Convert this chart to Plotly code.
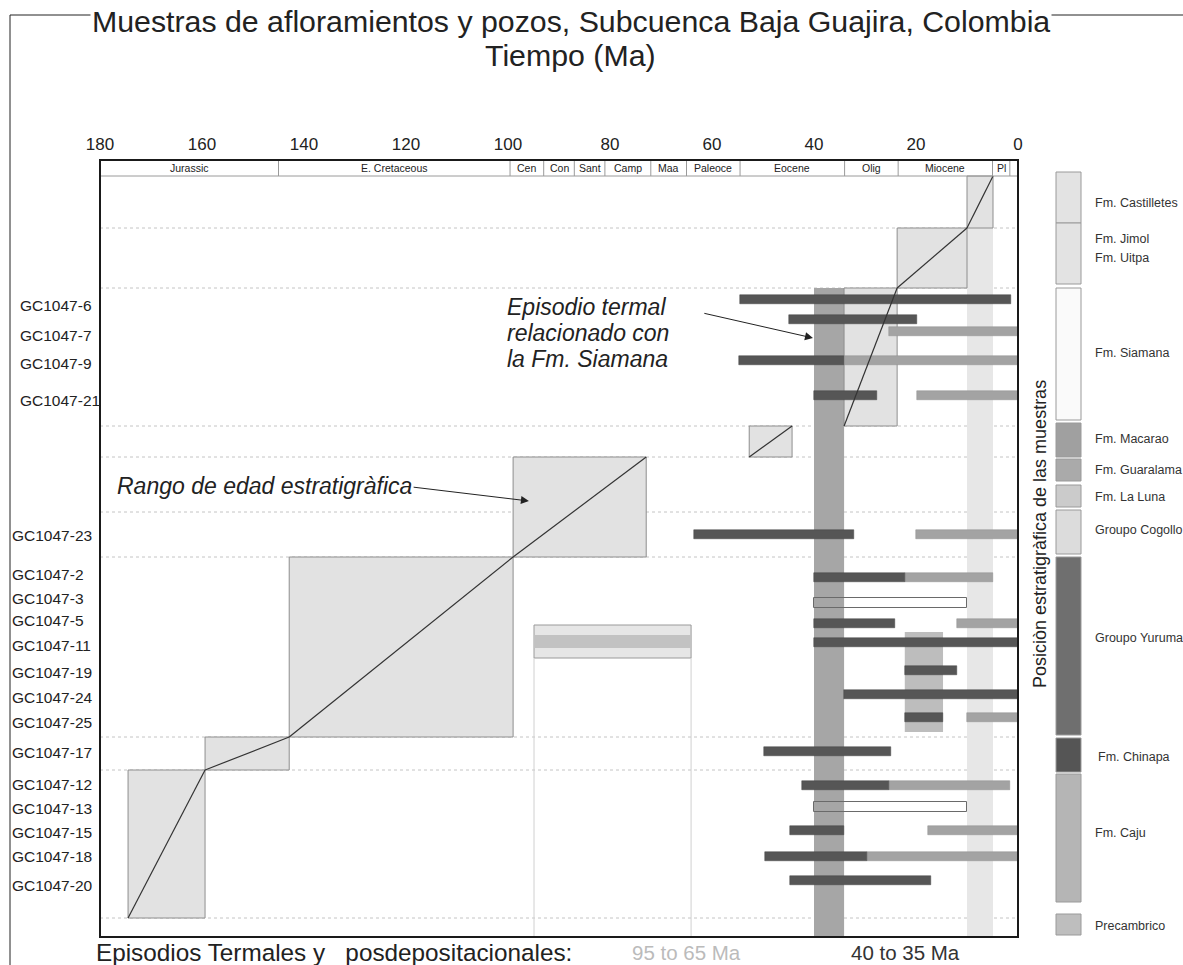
import plotly.graph_objects as go

# ---------------- data ----------------
period_names = ["Jurassic", "E. Cretaceous", "Cen", "Con", "Sant", "Camp", "Maa",
                "Paleoce", "Eocene", "Olig", "Miocene", "Pl", ""]
period_bounds = [180, 145, 99.6, 93, 87, 81, 72, 65, 54.5, 34, 23.5, 5, 1.6, 0]

tick_vals = [180, 160, 140, 120, 100, 80, 60, 40, 20, 0]

sample_names = ["GC1047-6", "GC1047-7", "GC1047-9", "GC1047-21", "GC1047-23", "GC1047-2",
                "GC1047-3", "GC1047-5", "GC1047-11", "GC1047-19", "GC1047-24", "GC1047-25",
                "GC1047-17", "GC1047-12", "GC1047-13", "GC1047-15", "GC1047-18", "GC1047-20"]
sample_label_pos = [305, 335, 363, 400, 535, 574, 598, 620, 645, 672, 697, 722,
                    752, 784, 808, 832, 856, 885]

# dark bars (older thermal history)
dark_sample = ["GC1047-6", "GC1047-7", "GC1047-9", "GC1047-21", "GC1047-23", "GC1047-2",
               "GC1047-5", "GC1047-11", "GC1047-19", "GC1047-24", "GC1047-25", "GC1047-17",
               "GC1047-12", "GC1047-15", "GC1047-18", "GC1047-20"]
dark_pos = [299, 319, 360, 395, 534, 577, 623, 642, 670, 694, 717, 751, 785, 830, 856, 880]
dark_old = [54.5, 44.9, 54.7, 40, 63.5, 40, 40, 40, 22.2, 34.1, 22.2, 49.8, 42.4, 44.7, 49.6, 44.7]
dark_young = [1.4, 19.8, 34.1, 27.6, 32.2, 22.2, 24.1, 0, 12, 0, 14.7, 24.9, 25.3, 34.1, 29.6, 17.1]

# light bars
light_sample = ["GC1047-7", "GC1047-9", "GC1047-21", "GC1047-23", "GC1047-2", "GC1047-5",
                "GC1047-25", "GC1047-12", "GC1047-15", "GC1047-18"]
light_pos = [331, 360, 395, 534, 577, 623, 717, 785, 830, 856]
light_old = [25.3, 34.1, 19.8, 20, 22.2, 12, 10, 25.3, 17.6, 29.6]
light_young = [0, 0, 0, 0, 4.9, 0, 0, 1.6, 0, 0]

# outlined (open) bars
open_sample = ["GC1047-3", "GC1047-13"]
open_pos = [603, 807]
open_old = [40, 40]
open_young = [10, 10]

# stratigraphic age ranges (boxes with diagonal age line)
strat_old = [10, 23.7, 34.1, 52.7, 99, 142.9, 159.4, 174.5]
strat_young = [4.9, 10, 23.7, 44.3, 72.9, 99, 142.9, 159.4]
strat_top = [176, 228, 288, 426, 457, 557, 737, 770]
strat_bot = [228, 288, 426, 457, 557, 737, 770, 918]

guide_levels = [228, 288, 426, 457, 512, 557, 737, 770, 918]

# thermal episodes
ep_dark_old, ep_dark_young, ep_dark_top = 40, 34.1, 288
ep_light_old, ep_light_young, ep_light_top = 10, 4.9, 228
ep_mio_old, ep_mio_young, ep_mio_top, ep_mio_bot = 22.2, 14.7, 632, 732
ep_k_old, ep_k_young, ep_k_top, ep_k_bot = 94.9, 64.1, 625, 658
ep_k_band_top, ep_k_band_bot = 635, 648

# formation column (right)
form_box_top = [172, 223, 288, 423, 459, 485, 510, 557, 738, 774, 914]
form_box_bot = [223, 284, 420, 457, 481, 507, 554, 735, 772, 902, 935]
form_box_col = ["#e3e3e3", "#e3e3e3", "#fafafa", "#a0a0a0", "#aaaaaa", "#cbcbcb",
                "#dcdcdc", "#6f6f6f", "#555555", "#b5b5b5", "#bebebe"]
form_labels = ["Fm. Castilletes", "Fm. Jimol", "Fm. Uitpa", "Fm. Siamana", "Fm. Macarao",
               "Fm. Guaralama", "Fm. La Luna", "Groupo Cogollo", "Groupo Yuruma",
               "Fm. Chinapa", "Fm. Caju", "Precambrico"]
form_label_pos = [203, 239, 258, 353, 439, 470, 497, 530, 638, 757, 833, 926]

# ---------------- layout helpers ----------------
W, H = 1183, 965
L, R, T, B = 100, 1018, 160, 937


def px(x):
    return (x - L) / (R - L)


def py(y):
    return (B - y) / (B - T)


FONT = "Liberation Sans, Arial, sans-serif"
shapes = []
annotations = []
fig = go.Figure()

# guide dotted lines
for g in guide_levels:
    shapes.append(dict(type="line", xref="x", yref="y", x0=180, x1=0, y0=g, y1=g,
                       line=dict(color="#c4c4c4", width=1, dash="dot"), layer="below"))

# thermal episode stripes
shapes.append(dict(type="rect", xref="x", yref="y", x0=ep_light_old, x1=ep_light_young,
                   y0=ep_light_top, y1=B, fillcolor="#e7e7e7", line=dict(width=0), layer="below"))
shapes.append(dict(type="rect", xref="x", yref="y", x0=ep_dark_old, x1=ep_dark_young,
                   y0=ep_dark_top, y1=B, fillcolor="#a6a6a6", line=dict(width=0), layer="below"))
shapes.append(dict(type="rect", xref="x", yref="y", x0=ep_mio_old, x1=ep_mio_young,
                   y0=ep_mio_top, y1=ep_mio_bot, fillcolor="#bdbdbd", line=dict(width=0), layer="below"))
shapes.append(dict(type="rect", xref="x", yref="y", x0=ep_k_old, x1=ep_k_young,
                   y0=ep_k_top, y1=ep_k_bot, fillcolor="#e6e6e6",
                   line=dict(color="#9a9a9a", width=1), layer="below"))
shapes.append(dict(type="rect", xref="x", yref="y", x0=ep_k_old, x1=ep_k_young,
                   y0=ep_k_band_top, y1=ep_k_band_bot, fillcolor="#c2c2c2",
                   line=dict(width=0), layer="below"))
for xv in (ep_k_old, ep_k_young):
    shapes.append(dict(type="line", xref="x", yref="y", x0=xv, x1=xv, y0=ep_k_bot, y1=B,
                       line=dict(color="#d0d0d0", width=1), layer="below"))

# stratigraphic boxes
for o, yg, t, b in zip(strat_old, strat_young, strat_top, strat_bot):
    shapes.append(dict(type="rect", xref="x", yref="y", x0=o, x1=yg, y0=t, y1=b,
                       fillcolor="#e2e2e2", line=dict(color="#8e8e8e", width=1), layer="below"))

# period band
for i, name in enumerate(period_names):
    a, b2 = period_bounds[i], period_bounds[i + 1]
    if i > 0:
        shapes.append(dict(type="line", xref="x", yref="y", x0=a, x1=a, y0=T, y1=176,
                           line=dict(color="#9a9a9a", width=1)))
    if name:
        annotations.append(dict(x=(a + b2) / 2, y=168, xref="x", yref="y", text=name,
                                showarrow=False, font=dict(family=FONT, size=10.5, color="#222"),
                                xanchor="center", yanchor="middle"))
shapes.append(dict(type="line", xref="x", yref="y", x0=180, x1=0, y0=176, y1=176,
                   line=dict(color="#9a9a9a", width=1)))

# bars
fig.add_trace(go.Bar(orientation="h", y=light_pos,
                     x=[o - yg for o, yg in zip(light_old, light_young)], base=light_young,
                     width=9, marker=dict(color="#a3a3a3", line=dict(color="#8f8f8f", width=0.5)),
                     hovertext=light_sample, showlegend=False))
fig.add_trace(go.Bar(orientation="h", y=dark_pos,
                     x=[o - yg for o, yg in zip(dark_old, dark_young)], base=dark_young,
                     width=9, marker=dict(color="#565656", line=dict(color="#444444", width=0.5)),
                     hovertext=dark_sample, showlegend=False))
fig.add_trace(go.Bar(orientation="h", y=open_pos,
                     x=[o - yg for o, yg in zip(open_old, open_young)], base=open_young,
                     width=10, marker=dict(color="rgba(0,0,0,0)", line=dict(color="#6a6a6a", width=1)),
                     hovertext=open_sample, showlegend=False))

# diagonal age lines
lx, ly = [], []
for o, yg, t, b in zip(strat_old, strat_young, strat_top, strat_bot):
    lx += [yg, o, None]
    ly += [t, b, None]
fig.add_trace(go.Scatter(x=lx, y=ly, mode="lines", line=dict(color="#333333", width=1.2),
                         hoverinfo="skip", showlegend=False))

# plot frame
shapes.append(dict(type="rect", xref="paper", yref="paper", x0=0, x1=1, y0=0, y1=1,
                   line=dict(color="#1a1a1a", width=2)))
# page border
shapes.append(dict(type="line", xref="paper", yref="paper", x0=px(10), x1=px(10),
                   y0=py(15), y1=py(965), line=dict(color="#222", width=1)))
shapes.append(dict(type="line", xref="paper", yref="paper", x0=px(10), x1=px(W),
                   y0=py(15), y1=py(15), line=dict(color="#222", width=1)))

# formation column
for t, b, c in zip(form_box_top, form_box_bot, form_box_col):
    shapes.append(dict(type="rect", xref="paper", yref="paper", x0=px(1056), x1=px(1081),
                       y0=py(b), y1=py(t), fillcolor=c, line=dict(color="#9a9a9a", width=1)))
for lab, yy in zip(form_labels, form_label_pos):
    xx = 1096 if lab == "Fm. Chinapa" else 1093
    annotations.append(dict(x=px(xx), y=py(yy), xref="paper", yref="paper", text=lab,
                            showarrow=False, xanchor="left", yanchor="middle",
                            font=dict(family=FONT, size=12.5, color="#333")))

annotations.append(dict(x=px(1040), y=py(534), xref="paper", yref="paper",
                        text="Posiciòn estratigràfica de las muestras", textangle=-90,
                        showarrow=False, xanchor="center", yanchor="middle",
                        font=dict(family=FONT, size=18, color="#222")))

# sample labels
for i, (name, yy) in enumerate(zip(sample_names, sample_label_pos)):
    xx = 18 if i < 4 else 10
    annotations.append(dict(x=px(xx), y=py(yy), xref="paper", yref="paper", text=name,
                            showarrow=False, xanchor="left", yanchor="middle",
                            font=dict(family=FONT, size=15.5, color="#222")))

# titles
annotations.append(dict(x=px(571), y=py(21), xref="paper", yref="paper",
                        text="Muestras de afloramientos y pozos, Subcuenca Baja Guajira, Colombia",
                        showarrow=False, xanchor="center", yanchor="middle", bgcolor="white",
                        font=dict(family=FONT, size=30.3, color="#222")))
annotations.append(dict(x=px(570), y=py(56), xref="paper", yref="paper", text="Tiempo (Ma)",
                        showarrow=False, xanchor="center", yanchor="middle",
                        font=dict(family=FONT, size=30.3, color="#222")))

# bottom texts
annotations.append(dict(x=px(94), y=py(952), xref="paper", yref="paper",
                        text="Episodios Termales y&nbsp;&nbsp; posdepositacionales:",
                        showarrow=False, xanchor="left", yanchor="middle",
                        font=dict(family=FONT, size=24.3, color="#222")))
annotations.append(dict(x=px(686), y=py(952), xref="paper", yref="paper", text="95 to 65 Ma",
                        showarrow=False, xanchor="center", yanchor="middle",
                        font=dict(family=FONT, size=20.5, color="#bbbbbb")))
annotations.append(dict(x=px(905), y=py(952), xref="paper", yref="paper", text="40 to 35 Ma",
                        showarrow=False, xanchor="center", yanchor="middle",
                        font=dict(family=FONT, size=20.5, color="#333")))

# in-plot callouts
for txt, yy in zip(["Episodio termal", "relacionado con", "la Fm. Siamana"], [307, 333, 359]):
    annotations.append(dict(x=100.6, y=yy, xref="x", yref="y", text="<i>" + txt + "</i>",
                            showarrow=False, xanchor="left", yanchor="middle",
                            font=dict(family=FONT, size=23, color="#222")))
annotations.append(dict(x=40.2, y=338, xref="x", yref="y", ax=61.8, ay=313, axref="x", ayref="y",
                        text="", showarrow=True, arrowhead=2, arrowsize=1.6, arrowwidth=1,
                        arrowcolor="#222"))
annotations.append(dict(x=177.1, y=486, xref="x", yref="y",
                        text="<i>Rango de edad estratigràfica</i>", showarrow=False,
                        xanchor="left", yanchor="middle",
                        font=dict(family=FONT, size=23, color="#222")))
annotations.append(dict(x=95.9, y=501, xref="x", yref="y", ax=118.8, ay=487, axref="x", ayref="y",
                        text="", showarrow=True, arrowhead=2, arrowsize=1.6, arrowwidth=1,
                        arrowcolor="#222"))

fig.update_layout(
    width=W, height=H,
    margin=dict(l=L, r=W - R, t=T, b=H - B, pad=0),
    paper_bgcolor="white", plot_bgcolor="white",
    barmode="overlay", bargap=0,
    shapes=shapes, annotations=annotations,
    xaxis=dict(range=[180, 0], side="top", tickvals=tick_vals, ticks="",
               showgrid=False, zeroline=False, showline=False, ticklabelstandoff=6,
               tickfont=dict(family=FONT, size=17, color="#222")),
    yaxis=dict(range=[B, T], showticklabels=False, showgrid=False, zeroline=False,
               showline=False, ticks=""),
)

fig.write_html("out.html", config={"displayModeBar": False},
               post_script="document.body.style.margin='0';")
